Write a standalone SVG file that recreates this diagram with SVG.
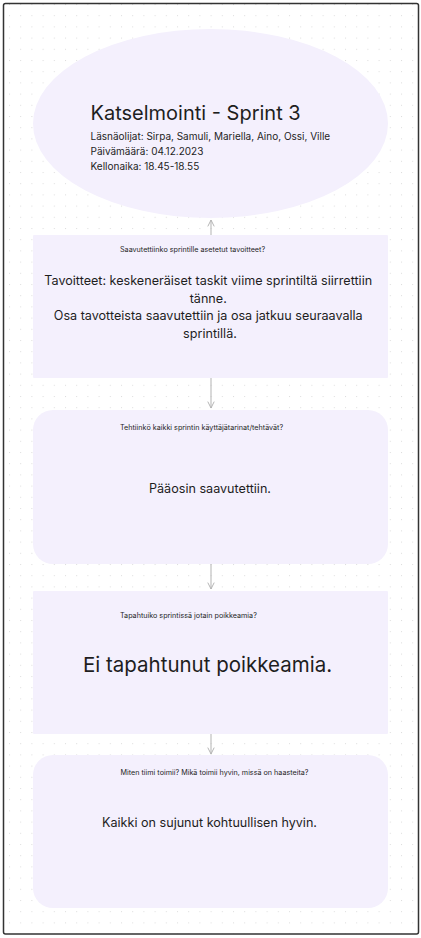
<svg xmlns="http://www.w3.org/2000/svg" width="421" height="938" viewBox="0 0 421 938">
  <style>
    .node { fill: #f4f0fd; }
    .q { font-family: Inter, "Noto Sans", "Liberation Sans", sans-serif; font-size: 7.2px; fill: #1e1e1e; }
    .m { font-family: Inter, "Noto Sans", "Liberation Sans", sans-serif; font-size: 12.6px; fill: #1e1e1e; text-anchor: middle; }
    .big { font-size: 20.5px; }
    .conn { stroke: #b3b3b3; stroke-width: 1; fill: none; }
  </style>
  <defs>
    <pattern id="dots" x="9" y="4" width="11.2" height="11.2" patternUnits="userSpaceOnUse">
      <rect x="0" y="0" width="1" height="1" fill="#dcdcdc"/>
    </pattern>
    <marker id="arr" viewBox="0 0 10 10" refX="9" refY="5" markerWidth="8" markerHeight="8" orient="auto" markerUnits="userSpaceOnUse">
      <path d="M1,1 L9,5 L1,9" fill="none" stroke="#b3b3b3" stroke-width="1.2"/>
    </marker>
  </defs>
  <rect x="0" y="0" width="421" height="938" fill="#ffffff"/>
  <rect x="3.5" y="3.5" width="415" height="930.5" fill="url(#dots)" stroke="#333333" stroke-width="1.5" rx="2"/>

  <g id="connectors">
    <line class="conn" x1="211" y1="235" x2="211" y2="220" marker-end="url(#arr)"/>
    <line class="conn" x1="211" y1="378" x2="211" y2="408" marker-end="url(#arr)"/>
    <line class="conn" x1="211" y1="564" x2="211" y2="589" marker-end="url(#arr)"/>
    <line class="conn" x1="211" y1="734" x2="211" y2="754" marker-end="url(#arr)"/>
  </g>

  <g id="header">
    <ellipse class="node" cx="210.5" cy="123.5" rx="177.5" ry="94.5"/>
    <text x="90.5" y="120" font-family="Inter, 'Noto Sans', 'Liberation Sans', sans-serif" font-size="20" fill="#1e1e1e">Katselmointi - Sprint 3</text>
    <text font-family="Inter, 'Noto Sans', 'Liberation Sans', sans-serif" font-size="10" fill="#1e1e1e">
      <tspan x="90.5" y="139.5">Läsnäolijat: Sirpa, Samuli, Mariella, Aino, Ossi, Ville</tspan>
      <tspan x="90.5" y="155">Päivämäärä: 04.12.2023</tspan>
      <tspan x="90.5" y="170">Kellonaika: 18.45-18.55</tspan>
    </text>
  </g>

  <g id="box1">
    <rect class="node" x="33" y="235" width="355" height="143" rx="1"/>
    <text class="q" x="120" y="252">Saavutettiinko sprintille asetetut tavoitteet?</text>
    <text class="m">
      <tspan x="210" y="285">Tavoitteet: keskeneräiset taskit viime sprintiltä siirrettiin</tspan>
      <tspan x="210" y="302.5">tänne.</tspan>
      <tspan x="210" y="320">Osa tavotteista saavutettiin ja osa jatkuu seuraavalla</tspan>
      <tspan x="210" y="337.5">sprintillä.</tspan>
    </text>
  </g>

  <g id="box2">
    <rect class="node" x="33" y="410" width="355" height="154" rx="20"/>
    <text class="q" x="120" y="430">Tehtiinkö kaikki sprintin käyttäjätarinat/tehtävät?</text>
    <text class="m" x="210" y="493">Pääosin saavutettiin.</text>
  </g>

  <g id="box3">
    <rect class="node" x="33" y="591" width="355" height="143" rx="1"/>
    <text class="q" x="120" y="618">Tapahtuiko sprintissä jotain poikkeamia?</text>
    <text class="m big" x="207.5" y="672">Ei tapahtunut poikkeamia.</text>
  </g>

  <g id="box4">
    <rect class="node" x="33" y="755" width="355" height="153" rx="20"/>
    <text class="q" x="120.5" y="775">Miten tiimi toimii? Mikä toimii hyvin, missä on haasteita?</text>
    <text class="m" x="209.5" y="827">Kaikki on sujunut kohtuullisen hyvin.</text>
  </g>
</svg>
